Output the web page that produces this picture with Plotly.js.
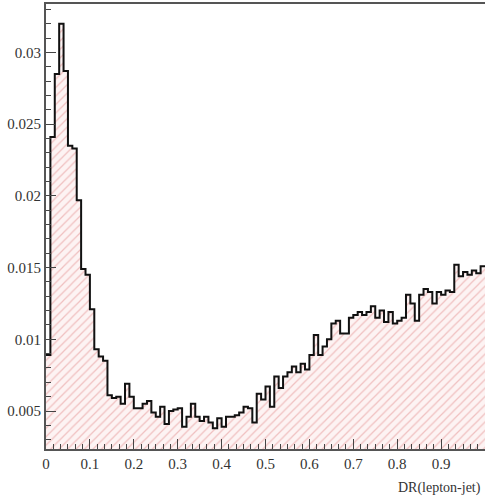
<!DOCTYPE html>
<html>
<head>
<meta charset="utf-8">
<script src="https://cdn.plot.ly/plotly-3.0.1.min.js"></script>
<style>
  html, body { margin: 0; padding: 0; background: #ffffff; }
  #chart { width: 485px; height: 498px; }
</style>
</head>
<body>
<div id="chart"></div>
<script>
// Histogram of DR(lepton-jet): 100 bins from 0 to 1
const histLow = 0;
const histHigh = 1;
const binContents = [
  0.0089, 0.0241, 0.0285, 0.0320, 0.0287, 0.0235, 0.0233, 0.0197, 0.0149, 0.0145,
  0.0121, 0.0093, 0.0088, 0.0085, 0.0061, 0.0059, 0.0060, 0.0055, 0.0069, 0.0060,
  0.0052, 0.0052, 0.0055, 0.0057, 0.0049, 0.0046, 0.0053, 0.0041, 0.0050, 0.0051,
  0.0052, 0.0039, 0.0046, 0.0055, 0.0046, 0.0043, 0.0046, 0.0042, 0.0038, 0.0045,
  0.0039, 0.0046, 0.0046, 0.0047, 0.0049, 0.0053, 0.0052, 0.0042, 0.0062, 0.0058,
  0.0067, 0.0053, 0.0074, 0.0066, 0.0074, 0.0077, 0.0081, 0.0077, 0.0083, 0.0079,
  0.0089, 0.0103, 0.0089, 0.0095, 0.0100, 0.0111, 0.0113, 0.0104, 0.0104, 0.0115,
  0.0117, 0.0119, 0.0117, 0.0119, 0.0123, 0.0115, 0.0120, 0.0112, 0.0119, 0.0111,
  0.0113, 0.0115, 0.0131, 0.0125, 0.0113, 0.0131, 0.0135, 0.0133, 0.0125, 0.0133,
  0.0131, 0.0134, 0.0133, 0.0152, 0.0144, 0.0147, 0.0145, 0.0148, 0.0146, 0.0151
];
const xTickVals = [0, 0.1, 0.2, 0.3, 0.4, 0.5, 0.6, 0.7, 0.8, 0.9];
const xTickText = ["0", "0.1", "0.2", "0.3", "0.4", "0.5", "0.6", "0.7", "0.8", "0.9"];
const yTickVals = [0.005, 0.01, 0.015, 0.02, 0.025, 0.03];
const yTickText = ["0.005", "0.01", "0.015", "0.02", "0.025", "0.03"];
const xTitle = "DR(lepton-jet)";

// build step outline from bin edges
const nBins = binContents.length;
const binW = (histHigh - histLow) / nBins;
const edges = [];
const stepY = [];
for (let i = 0; i < nBins; i++) {
  edges.push(histLow + i * binW);
  stepY.push(binContents[i]);
}
edges.push(histHigh);
stepY.push(binContents[nBins - 1]);

const serif = "Liberation Serif, Times New Roman, serif";

const trace = {
  type: "scatter",
  mode: "lines",
  x: edges,
  y: stepY,
  line: { shape: "hv", color: "#111111", width: 2 },
  fill: "tozeroy",
  fillcolor: "rgba(0,0,0,0)",
  fillpattern: { shape: "/", fgcolor: "#f0c0c0", bgcolor: "#fdf3f3", size: 6, solidity: 0.2 },
  hoverinfo: "skip"
};

const layout = {
  width: 485,
  height: 498,
  margin: { l: 46, r: 0, t: 4, b: 49, pad: 0 },
  paper_bgcolor: "#ffffff",
  plot_bgcolor: "#ffffff",
  showlegend: false,
  xaxis: {
    range: [histLow, histHigh],
    tickmode: "array",
    tickvals: xTickVals,
    ticktext: xTickText,
    ticks: "inside",
    ticklen: 10,
    tickwidth: 1,
    tickcolor: "#444444",
    showline: true,
    linecolor: "#555555",
    linewidth: 2,
    mirror: true,
    showgrid: false,
    zeroline: false,
    tickfont: { family: serif, size: 15, color: "#333333" },
    minor: { ticks: "inside", dtick: 1 / 60, tick0: 0, ticklen: 5, tickcolor: "#444444", showgrid: false }
  },
  yaxis: {
    range: [0.00235, 0.03338],
    tickmode: "array",
    tickvals: yTickVals,
    ticktext: yTickText,
    ticks: "inside",
    ticklen: 10,
    tickwidth: 1,
    tickcolor: "#444444",
    showline: true,
    linecolor: "#555555",
    linewidth: 2,
    mirror: true,
    showgrid: false,
    zeroline: false,
    tickfont: { family: serif, size: 15, color: "#333333" },
    minor: { ticks: "inside", dtick: 0.001, tick0: 0, ticklen: 5, tickcolor: "#444444", showgrid: false }
  },
  annotations: [{
    text: xTitle,
    xref: "paper", yref: "paper",
    x: 0.995, y: -0.088,
    xanchor: "right", yanchor: "middle",
    showarrow: false,
    font: { family: serif, size: 14, color: "#333333" }
  }]
};

Plotly.newPlot("chart", [trace], layout, { displayModeBar: false, staticPlot: true });
</script>
</body>
</html>
